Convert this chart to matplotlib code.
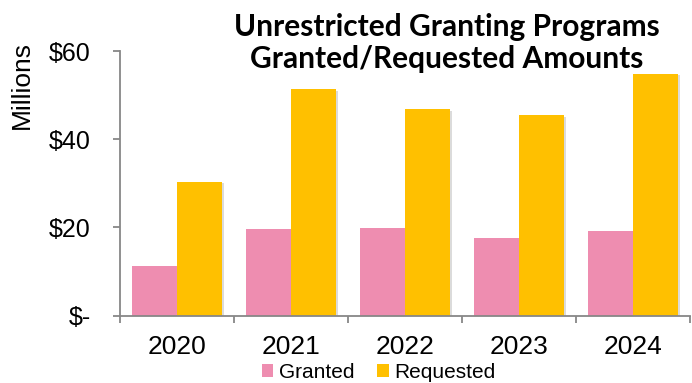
import matplotlib.pyplot as plt
import matplotlib.patheffects as pe
from matplotlib.patches import Patch
from matplotlib.ticker import FixedLocator
import numpy as np

# granted vs requested amounts per year, in millions of dollars
years = ["2020", "2021", "2022", "2023", "2024"]
granted = [11.3, 19.6, 19.8, 17.6, 19.1]
requested = [30.4, 51.3, 46.8, 45.4, 54.8]
ytick_vals = [0, 20, 40, 60]
ytick_labels = ["$-", "$20", "$40", "$60"]

pink = "#EE8DB0"
gold = "#FFC000"
axis_grey = "#878787"

plt.rcParams['font.family'] = ['Liberation Sans', 'DejaVu Sans']

fig = plt.figure(figsize=(6.92, 3.83), dpi=100)
ax = fig.add_axes([0.1734, 0.1762, 0.8236, 0.6906])

x = np.arange(len(years))
w = 0.395
shadow = [pe.SimplePatchShadow(offset=(1.5, -1.0), shadow_rgbFace="#999999", alpha=0.35), pe.Normal()]
b1 = ax.bar(x - w / 2, granted, w, color=pink, label="Granted")
b2 = ax.bar(x + w / 2, requested, w, color=gold, label="Requested")
for bar in list(b1) + list(b2):
    bar.set_path_effects(shadow)

ax.set_xlim(-0.5, len(years) - 0.5)
ax.set_ylim(0, 60)

for side in ["top", "right"]:
    ax.spines[side].set_visible(False)
for side in ["left", "bottom"]:
    ax.spines[side].set_color(axis_grey)
    ax.spines[side].set_linewidth(1.3)

ax.set_yticks(ytick_vals)
ax.set_yticklabels(ytick_labels, fontsize=18)
ax.tick_params(axis="y", length=5, width=1.3, color=axis_grey, pad=16)

ax.set_xticks(x)
ax.set_xticklabels(years, fontsize=19)
ax.tick_params(axis="x", which="major", length=0, pad=14)
ax.xaxis.set_minor_locator(FixedLocator(np.arange(-0.5, len(years), 1.0)))
ax.tick_params(axis="x", which="minor", length=5, width=1.3, color=axis_grey)

ax.set_ylabel("Millions", fontsize=19)
ax.yaxis.set_label_coords(-0.151, 0.87)

fig.text(0.646, 0.967, "Unrestricted Granting Programs\nGranted/Requested Amounts",
         ha="center", va="top", fontsize=21.5, fontweight="bold",
         family=["Lato", "DejaVu Sans"], linespacing=1.18)

handles = [Patch(facecolor=pink), Patch(facecolor=gold)]
fig.legend(handles, ["Granted", "Requested"], loc="center", bbox_to_anchor=(0.547, 0.028),
           ncol=2, frameon=False, fontsize=15, handlelength=0.55, handleheight=0.55,
           handletextpad=0.25, columnspacing=1.1, borderpad=0)

fig.savefig("out.png", dpi=100)
